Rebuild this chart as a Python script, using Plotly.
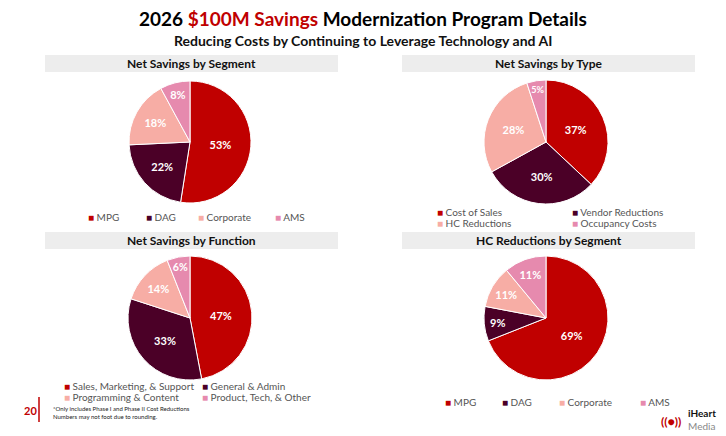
import plotly.graph_objects as go

# page body has an 8px margin: lay the figure out in screen pixels and shift by it
W, H, OFF = 718, 428, 8
RED, MAROON, PEACH, PINK = "#C00000", "#4B0027", "#F7ADA5", "#E68AAE"
COLORS = [RED, MAROON, PEACH, PINK]

seg_labels = ["MPG", "DAG", "Corporate", "AMS"]
seg_values = [53, 22, 18, 8]
type_labels = ["Cost of Sales", "Vendor Reductions", "HC Reductions", "Occupancy Costs"]
type_values = [37, 30, 28, 5]
func_labels = ["Sales, Marketing, & Support", "General & Admin", "Programming & Content", "Product, Tech, & Other"]
func_values = [47, 33, 14, 6]
hc_labels = ["MPG", "DAG", "Corporate", "AMS"]
hc_values = [69, 9, 11, 11]

def px(x): return (x - OFF) / W
def py(y): return 1 - (y - OFF) / H

fig = go.Figure()
pies = [(seg_labels, seg_values, 190, 142, 61),
        (type_labels, type_values, 546, 142, 62),
        (func_labels, func_values, 190, 318, 62),
        (hc_labels, hc_values, 546, 318, 62)]
for labels, vals, cx, cy, r in pies:
    fig.add_trace(go.Pie(labels=labels, values=vals, sort=False, direction="clockwise", rotation=0,
                         marker=dict(colors=COLORS, line=dict(color="white", width=1)),
                         texttemplate="%{value}%", textposition="inside",
                         textfont=dict(color="white", size=11, family="Lato", weight="bold"),
                         insidetextorientation="horizontal", showlegend=False, hole=0,
                         domain=dict(x=[px(cx - r), px(cx + r)], y=[py(cy + r), py(cy - r)])))

shapes, ann = [], []
def A(text, x, y, xa="center", **kw):
    d = dict(text=text, x=px(x), y=py(y), xref="paper", yref="paper", xanchor=xa, yanchor="middle", showarrow=False)
    d.update(kw)
    ann.append(d)

for x0, x1, y0, y1, t in [(45, 338, 55, 72, "Net Savings by Segment"), (402, 695, 55, 72, "Net Savings by Type"),
                          (45, 338, 232, 249, "Net Savings by Function"), (402, 695, 232, 249, "HC Reductions by Segment")]:
    shapes.append(dict(type="rect", xref="paper", yref="paper", x0=px(x0), x1=px(x1), y0=py(y1), y1=py(y0),
                       fillcolor="#EDEDED", line=dict(width=0), layer="below"))
    A(f"<b>{t}</b>", (x0 + x1) / 2, (y0 + y1) / 2, font=dict(size=12, color="#111", family="Lato"))

A("<b>2026 <span style='color:#C00000'>$100M Savings</span> Modernization Program Details</b>", 363, 19,
  font=dict(size=19, color="#000", family="Lato"))
A("<b>Reducing Costs by Continuing to Leverage Technology and AI</b>", 363, 40,
  font=dict(size=14, color="#111", family="Lato"))

def leg(label, color, x, y):
    A(f"<span style='color:{color}'>■</span> {label}", x, y, xa="left", font=dict(size=10, color="#555", family="Lato"))

for lab, c, x in zip(seg_labels, COLORS, [86, 144, 196, 273]):
    leg(lab, c, x, 217)
for lab, c, x, y in zip(type_labels, COLORS, [435, 570, 435, 570], [212, 212, 223, 223]):
    leg(lab, c, x, y)
for lab, c, x, y in zip(func_labels, COLORS, [62, 200, 62, 200], [386, 386, 397, 397]):
    leg(lab, c, x, y)
for lab, c, x in zip(hc_labels, COLORS, [443, 500, 557, 638]):
    leg(lab, c, x, 402)

shapes.append(dict(type="line", xref="paper", yref="paper", x0=px(39), x1=px(39), y0=py(422), y1=py(397),
                   line=dict(color=RED, width=1.5)))
A("<b>20</b>", 30, 410, font=dict(size=11, color=RED, family="Lato"))
A("*Only includes Phase I and Phase II Cost Reductions<br>Numbers may not foot due to rounding.", 51, 412, xa="left",
  align="left", font=dict(size=6, color="#222", family="Lato"))
A("<b>((●))</b>", 671, 421, font=dict(size=12, color=RED, family="Lato"))
A("<b>iHeart</b><br><span style='color:#888'>Media</span>", 686, 419, xa="left", align="left",
  font=dict(size=10, color="#111", family="Lato"))

fig.update_layout(width=W, height=H, margin=dict(l=0, r=0, t=0, b=0), paper_bgcolor="white",
                  plot_bgcolor="white", shapes=shapes, annotations=ann)
fig.write_html("out.html")
